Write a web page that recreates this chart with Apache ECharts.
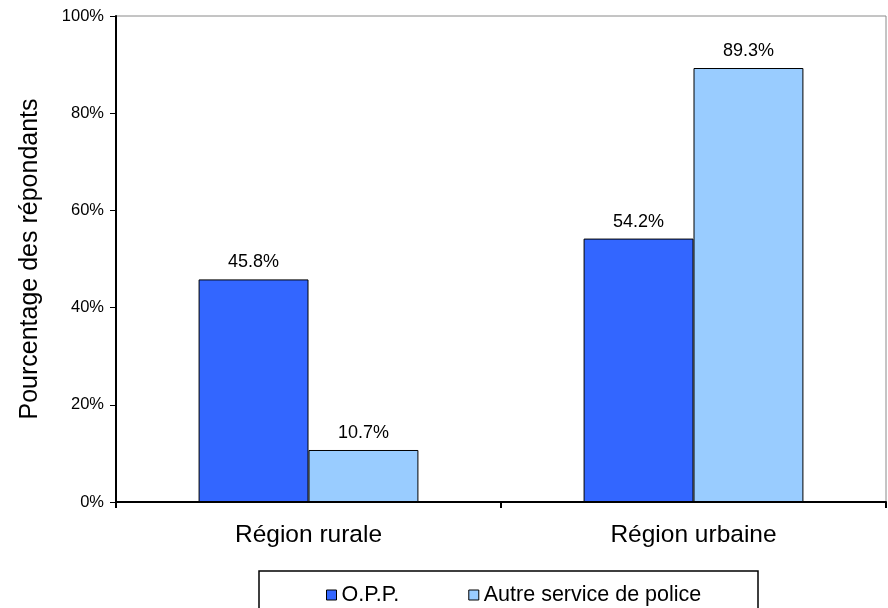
<!DOCTYPE html>
<html>
<head>
<meta charset="utf-8">
<script src="https://cdn.jsdelivr.net/npm/echarts@6/dist/echarts.min.js"></script>
<style>
  html, body { margin: 0; padding: 0; background: #fff; }
  #chart { width: 888px; height: 608px; }
</style>
</head>
<body>
<div id="chart"></div>
<script>
// Répartition des répondants par service de police, selon la région
const categories = ['Région rurale', 'Région urbaine'];
const seriesNames = ['O.P.P.', 'Autre service de police'];
const oppValues = [45.8, 54.2];
const autreValues = [10.7, 89.3];
const yTicks = [0, 20, 40, 60, 80, 100];

const FONT = 'Liberation Sans, Arial, sans-serif';
const chart = echarts.init(document.getElementById('chart'), null, { renderer: 'canvas' });

const barLabel = {
  show: true,
  position: 'top',
  distance: 8,
  color: '#000',
  fontFamily: FONT,
  fontSize: 18,
  formatter: p => p.value.toFixed(1) + '%'
};

chart.setOption({
  animation: false,
  backgroundColor: '#fff',
  grid: {
    left: 116, right: 2, top: 16, bottom: 106,
    show: true, borderColor: '#8a8a8a', borderWidth: 1, backgroundColor: 'transparent'
  },
  xAxis: {
    type: 'category',
    data: categories,
    axisLine: { show: true, lineStyle: { color: '#000', width: 2 } },
    axisTick: { show: true, alignWithLabel: false, length: 6, lineStyle: { color: '#000', width: 2 } },
    axisLabel: { color: '#000', fontFamily: FONT, fontSize: 24.5, margin: 21 },
    splitLine: { show: false }
  },
  yAxis: {
    type: 'value',
    min: yTicks[0],
    max: yTicks[yTicks.length - 1],
    interval: yTicks[1] - yTicks[0],
    name: 'Pourcentage des répondants',
    nameLocation: 'middle',
    nameGap: 73,
    nameRotate: 90,
    nameTextStyle: { color: '#000', fontFamily: FONT, fontSize: 25 },
    axisLine: { show: true, lineStyle: { color: '#000', width: 2 } },
    axisTick: { show: true, inside: false, length: 6, lineStyle: { color: '#000', width: 1 } },
    axisLabel: { color: '#000', fontFamily: FONT, fontSize: 16.5, margin: 12, formatter: '{value}%' },
    splitLine: { show: false }
  },
  legend: {
    data: seriesNames,
    left: 321,
    top: 579,
    icon: 'rect',
    itemWidth: 10,
    itemHeight: 10,
    itemGap: 69,
    textStyle: { color: '#000', fontFamily: FONT, fontSize: 21.5 },
    itemStyle: { borderColor: '#000', borderWidth: 1 }
  },
  graphic: [{
    type: 'rect',
    shape: { x: 259, y: 571, width: 499, height: 60 },
    style: { fill: 'none', stroke: '#000', lineWidth: 1.5 },
    silent: true
  }],
  series: [
    {
      name: seriesNames[0],
      type: 'bar',
      data: oppValues,
      barGap: '0%',
      barCategoryGap: '42.9%',
      itemStyle: { color: '#3366ff', borderColor: '#000', borderWidth: 1 },
      label: barLabel
    },
    {
      name: seriesNames[1],
      type: 'bar',
      data: autreValues,
      barGap: '0%',
      barCategoryGap: '42.9%',
      itemStyle: { color: '#99ccff', borderColor: '#000', borderWidth: 1 },
      label: barLabel
    }
  ]
});
</script>
</body>
</html>
